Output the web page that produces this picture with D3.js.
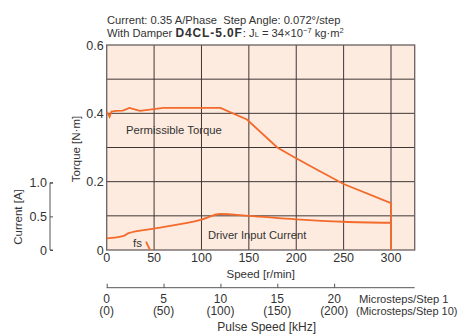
<!DOCTYPE html>
<html>
<head>
<meta charset="utf-8">
<script src="https://cdn.jsdelivr.net/npm/d3@7"></script>
<style>
  body { margin: 0; background: #fff; }
  text { font-family: "Liberation Sans", Arial, sans-serif; fill: #333; }
</style>
</head>
<body>
<div id="chart"></div>
<script>
// torque curve [r/min, N·m]
var torqueSpeed = [0, 3, 5, 10, 17, 24, 35, 60, 120, 148, 180, 197, 224, 250, 300, 300];
var torqueVal = [0.405, 0.39, 0.405, 0.407, 0.408, 0.416, 0.407, 0.416, 0.416, 0.382, 0.30, 0.273, 0.232, 0.193, 0.137, 0];

// driver input current [r/min, A]
var currentSpeed = [0, 18, 23, 50, 99, 120, 150, 200, 250, 300];
var currentVal = [0.174, 0.21, 0.25, 0.318, 0.446, 0.535, 0.508, 0.456, 0.42, 0.405];

// fs marker
var fsSpeed = [41.5, 45.7];
var fsVal = [0.125, 0];

var torqueTicks = [0, 0.2, 0.4, 0.6];
var torqueGrid = [0.1, 0.2, 0.3, 0.4, 0.5];
var speedTicks = [0, 50, 100, 150, 200, 250, 300];
var currentTicks = [0, 0.5, 1.0];
var pulseTicks = [0, 5, 10, 15, 20];
var pulseLabels2 = ["(0)", "(50)", "(100)", "(150)", "(200)"];

var W = 462, H = 334;
var pL = 106.7, pR = 414.7, pT = 45, pB = 250;

var svg = d3.select("#chart")
  .append("svg")
  .attr("width", W)
  .attr("height", H);

var x = d3.scaleLinear().domain([0, 325]).range([pL, pR]);
var y = d3.scaleLinear().domain([0, 0.6]).range([pB, pT]);
var yc = d3.scaleLinear().domain([0, 1]).range([pB, 182.7]);
// 5000 steps/rev -> 1 kHz = 12 r/min
var xp = d3.scaleLinear().domain([0, 325 / 12]).range([pL, pR]);

var orange = "#f36a2b";

// plot background
svg.append("rect")
  .attr("x", pL).attr("y", pT)
  .attr("width", pR - pL).attr("height", pB - pT)
  .attr("fill", "#fdebdf");

// grid
svg.append("g").selectAll("line").data(torqueGrid).enter().append("line")
  .attr("x1", pL).attr("x2", pR)
  .attr("y1", function (d) { return y(d); })
  .attr("y2", function (d) { return y(d); })
  .attr("stroke", "#3e3636").attr("stroke-width", 1);
svg.append("g").selectAll("line").data(speedTicks.slice(1)).enter().append("line")
  .attr("x1", function (d) { return x(d); })
  .attr("x2", function (d) { return x(d); })
  .attr("y1", pT).attr("y2", pB)
  .attr("stroke", "#3e3636").attr("stroke-width", 1);

svg.append("rect")
  .attr("x", pL).attr("y", pT)
  .attr("width", pR - pL).attr("height", pB - pT)
  .attr("fill", "none").attr("stroke", "#6a6060").attr("stroke-width", 1.3);

// torque axis labels
svg.append("g").selectAll("text").data(torqueTicks).enter().append("text")
  .attr("x", pL - 3)
  .attr("y", function (d) { return y(d) + 4.5; })
  .attr("text-anchor", "end")
  .style("font-size", "12.5px")
  .text(function (d) { return d === 0 ? "0" : d.toFixed(1); });

svg.append("text")
  .attr("transform", "translate(80,149) rotate(-90)")
  .attr("text-anchor", "middle")
  .style("font-size", "11.5px")
  .text("Torque [N·m]");

// speed axis labels
svg.append("g").selectAll("text").data(speedTicks).enter().append("text")
  .attr("x", function (d) { return x(d); })
  .attr("y", 261.5)
  .attr("text-anchor", "middle")
  .style("font-size", "12.5px")
  .text(function (d) { return d; });

svg.append("text")
  .attr("x", (pL + pR) / 2).attr("y", 278)
  .attr("text-anchor", "middle")
  .style("font-size", "11.5px")
  .text("Speed [r/min]");

// current axis
svg.append("g")
  .attr("transform", "translate(50,0)")
  .call(d3.axisRight(yc).tickValues(currentTicks).tickSize(3).tickFormat(""))
  .call(function (g) {
    g.select(".domain").attr("stroke", "#555").attr("d", "M3," + yc(1) + "H0V" + yc(0) + "H3");
    g.selectAll(".tick line").attr("stroke", "#555");
  });
svg.append("g").selectAll("text").data(currentTicks).enter().append("text")
  .attr("x", 47)
  .attr("y", function (d) { return yc(d) + 4.5; })
  .attr("text-anchor", "end")
  .style("font-size", "12.5px")
  .text(function (d) { return d === 0 ? "0" : d.toFixed(1); });
svg.append("text")
  .attr("transform", "translate(22,217) rotate(-90)")
  .attr("text-anchor", "middle")
  .style("font-size", "11.5px")
  .text("Current [A]");

// pulse speed axis
svg.append("g")
  .attr("transform", "translate(0,287.7)")
  .call(d3.axisTop(xp).tickValues(pulseTicks).tickSize(4).tickFormat(""))
  .call(function (g) {
    g.select(".domain").attr("stroke", "#555").attr("d", "M" + pL + ",0H" + pR);
    g.selectAll(".tick line").attr("stroke", "#555");
  });
svg.append("g").selectAll("text").data(pulseTicks).enter().append("text")
  .attr("x", function (d) { return xp(d); })
  .attr("y", 302.5)
  .attr("text-anchor", "middle")
  .style("font-size", "12px")
  .text(function (d) { return d; });
svg.append("g").selectAll("text").data(pulseLabels2).enter().append("text")
  .attr("x", function (d, i) { return xp(pulseTicks[i]); })
  .attr("y", 315)
  .attr("text-anchor", "middle")
  .style("font-size", "12px")
  .text(function (d) { return d; });
svg.append("text")
  .attr("x", 359).attr("y", 302.5)
  .style("font-size", "11.2px")
  .text("Microsteps/Step 1");
svg.append("text")
  .attr("x", 356).attr("y", 315)
  .style("font-size", "11px")
  .text("(Microsteps/Step 10)");
svg.append("text")
  .attr("x", 266.7).attr("y", 331)
  .attr("text-anchor", "middle")
  .style("font-size", "12px")
  .text("Pulse Speed [kHz]");

// curves
var torquePts = torqueSpeed.map(function (s, i) { return [s, torqueVal[i]]; });
var currentPts = currentSpeed.map(function (s, i) { return [s, currentVal[i]]; });
var fsPts = fsSpeed.map(function (s, i) { return [s, fsVal[i]]; });

svg.append("path").datum(torquePts)
  .attr("fill", "none").attr("stroke", orange).attr("stroke-width", 1.8)
  .attr("d", d3.line()
    .x(function (d) { return x(d[0]); })
    .y(function (d) { return y(d[1]); }));

svg.append("path").datum(currentPts)
  .attr("fill", "none").attr("stroke", orange).attr("stroke-width", 1.8)
  .attr("d", d3.line().curve(d3.curveMonotoneX)
    .x(function (d) { return x(d[0]); })
    .y(function (d) { return yc(d[1]); }));

svg.append("path").datum(fsPts)
  .attr("fill", "none").attr("stroke", orange).attr("stroke-width", 1.8)
  .attr("d", d3.line()
    .x(function (d) { return x(d[0]); })
    .y(function (d) { return yc(d[1]); }));

// curve labels
svg.append("text")
  .attr("x", 126).attr("y", 134)
  .style("font-size", "11.3px")
  .text("Permissible Torque");
svg.append("text")
  .attr("x", 208).attr("y", 239)
  .style("font-size", "11.2px")
  .text("Driver Input Current");
svg.append("text")
  .attr("x", 133).attr("y", 247)
  .style("font-size", "11.5px")
  .text("fs");

// title
svg.append("text")
  .attr("x", 107).attr("y", 24)
  .style("font-size", "11.2px")
  .text("Current: 0.35 A/Phase\u00a0\u00a0Step Angle: 0.072°/step");
var t2 = svg.append("text")
  .attr("x", 107).attr("y", 37)
  .style("font-size", "11.2px");
t2.append("tspan").text("With Damper ");
t2.append("tspan").style("font-weight", "bold").style("font-size", "12px")
  .style("letter-spacing", "0.9px").text("D4CL-5.0F");
t2.append("tspan").text(": J");
t2.append("tspan").style("font-size", "7.5px").text("L");
t2.append("tspan").text(" = 34×10");
t2.append("tspan").attr("dy", -4).style("font-size", "7.5px").text("−7");
t2.append("tspan").attr("dy", 4).text(" kg·m");
t2.append("tspan").attr("dy", -4).style("font-size", "7.5px").text("2");
</script>
</body>
</html>
